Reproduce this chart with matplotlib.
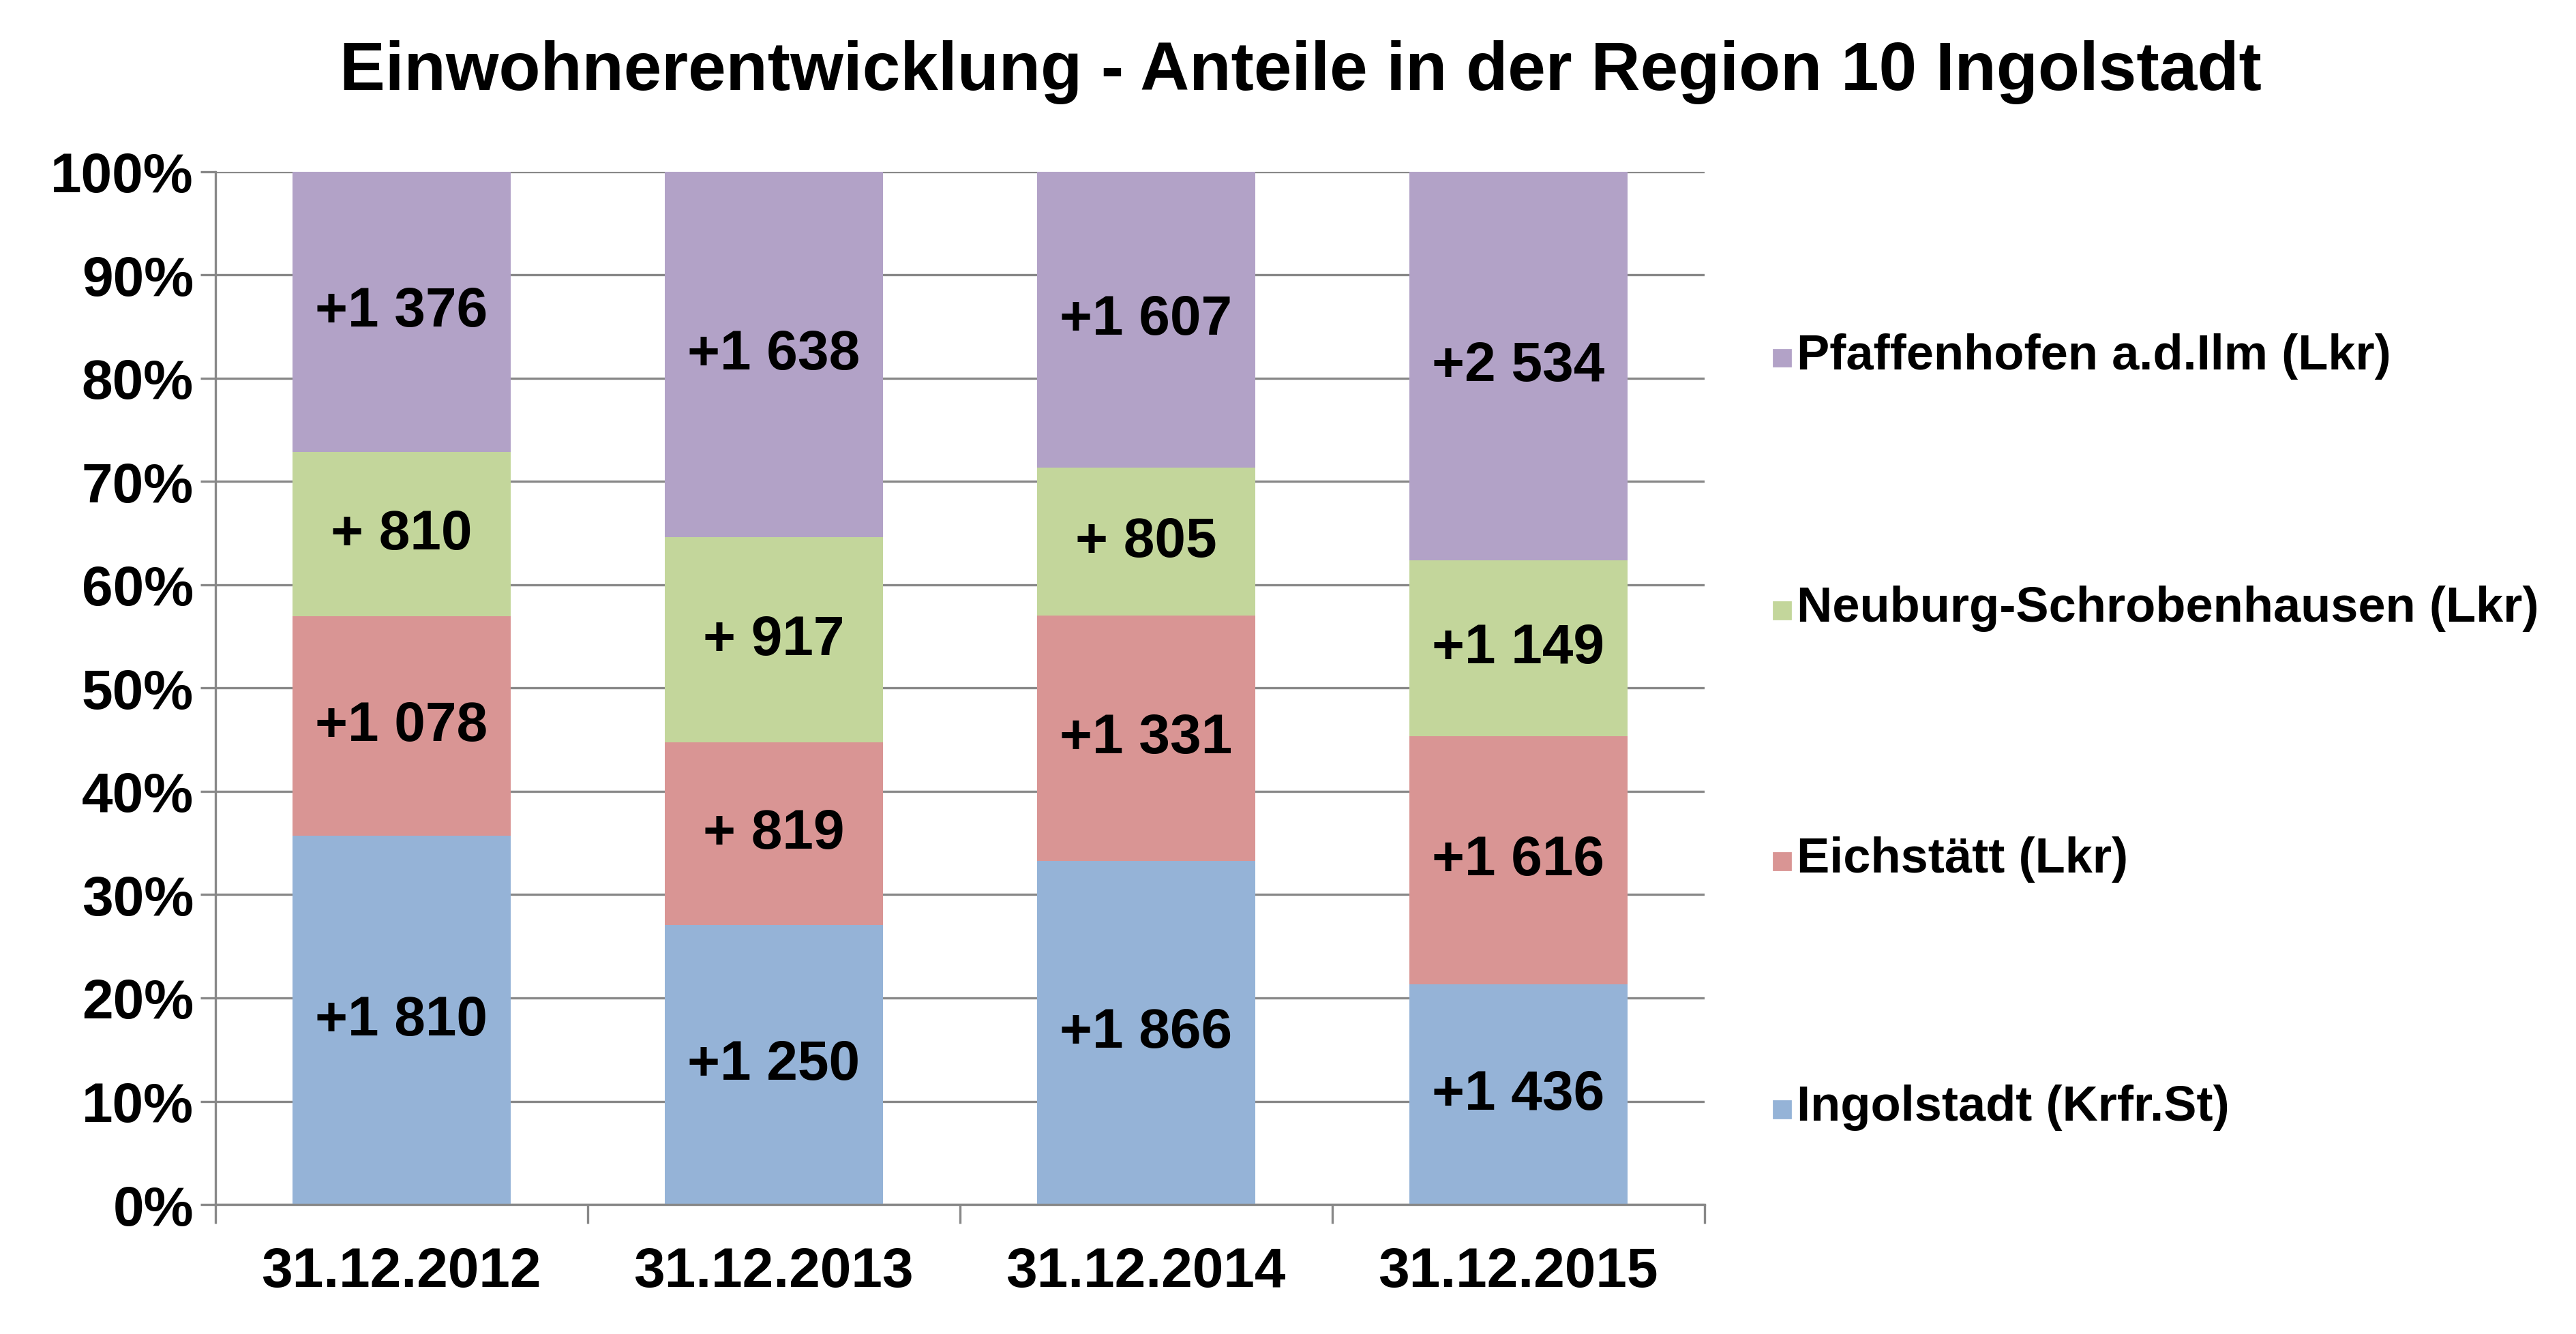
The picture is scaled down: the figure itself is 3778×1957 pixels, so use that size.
import matplotlib.pyplot as plt
import numpy as np
from matplotlib.patches import Rectangle

plt.rcParams['font.family'] = ['Liberation Sans', 'DejaVu Sans']
plt.rcParams['font.weight'] = 'bold'

jahre = ['31.12.2012', '31.12.2013', '31.12.2014', '31.12.2015']
serien = ['Ingolstadt (Krfr.St)', 'Eichstätt (Lkr)', 'Neuburg-Schrobenhausen (Lkr)', 'Pfaffenhofen a.d.Ilm (Lkr)']
ingolstadt = [1810, 1250, 1866, 1436]
eichstaett = [1078, 819, 1331, 1616]
neuburg = [810, 917, 805, 1149]
pfaffenhofen = [1376, 1638, 1607, 2534]
farben = ['#95B3D7', '#D99594', '#C3D69B', '#B2A2C7']

werte = np.array([ingolstadt, eichstaett, neuburg, pfaffenhofen], dtype=float)
anteile = werte / werte.sum(axis=0) * 100

def fmt(v):
    s = f'{int(v):,}'.replace(',', ' ')
    return '+' + s if v >= 1000 else '+ ' + s

fig = plt.figure(figsize=(18.89, 9.79), dpi=200)
ax = fig.add_axes([0.0836, 0.097, 0.578, 0.774])
x = np.arange(len(jahre))
unten = np.zeros(len(jahre))
for i in range(4):
    ax.bar(x, anteile[i], 0.586, bottom=unten, color=farben[i], zorder=2)
    for j in range(len(jahre)):
        ax.text(x[j], unten[j] + anteile[i][j] / 2, fmt(werte[i][j]),
                ha='center', va='center', fontsize=29.5, fontweight='bold', zorder=3)
    unten += anteile[i]

ax.set_xlim(-0.5, 3.5)
ax.set_ylim(0, 100)
ax.set_yticks(range(0, 101, 10))
ax.set_yticklabels([f'{v}%' for v in range(0, 101, 10)], fontsize=29.5, fontweight='bold')
ax.yaxis.grid(True, color='#888888', linewidth=1.2, zorder=0)
ax.set_xticks(x)
ax.set_xticklabels(jahre, fontsize=29.5, fontweight='bold')
ax.tick_params(axis='x', length=0, pad=22)
ax.set_xticks(np.arange(-0.5, 4, 1), minor=True)
ax.tick_params(axis='x', which='minor', length=10, color='#888888', width=1.2)
ax.tick_params(axis='y', length=8, color='#888888', width=1.2)
for s in ['top', 'right']:
    ax.spines[s].set_visible(False)
for s in ['left', 'bottom']:
    ax.spines[s].set_color('#888888')
    ax.spines[s].set_linewidth(1.2)

fig.text(0.505, 0.946, 'Einwohnerentwicklung - Anteile in der Region 10 Ingolstadt',
         ha='center', va='center', fontsize=36, fontweight='bold')

leg_y = [0.170, 0.356, 0.544, 0.733]
for i in range(4):
    fig.patches.append(Rectangle((0.6885, leg_y[i] - 0.008), 0.0065, 0.0126,
                                 transform=fig.transFigure, color=farben[i]))
    fig.text(0.6975, leg_y[i], serien[i], ha='left', va='center', fontsize=26, fontweight='bold')

fig.savefig('out.png', dpi=200, facecolor='white')
